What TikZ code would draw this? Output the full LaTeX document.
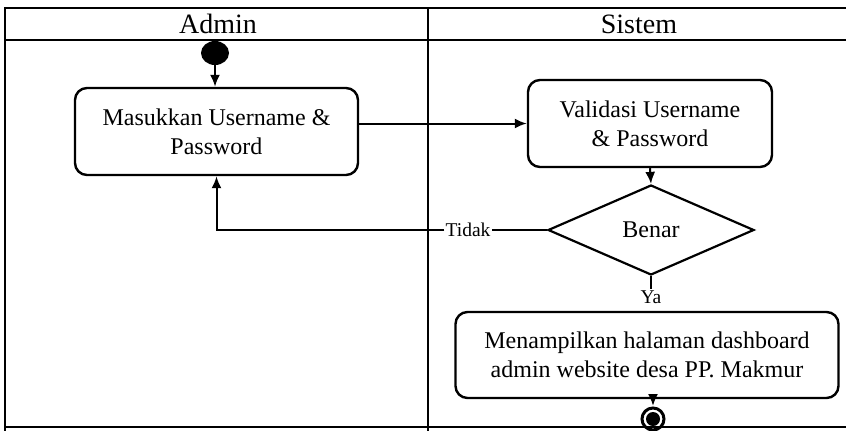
\documentclass[tikz,border=0pt]{standalone}
\usepackage{fontspec}
\setmainfont{Liberation Serif}
\usetikzlibrary{positioning,calc,arrows.meta,shapes}

\begin{document}
\begin{tikzpicture}
    [
    x=1pt, y=-1pt,
    activity/.style={
      draw, line width=2.4pt, rounded corners=12pt,
      align=center, inner sep=0pt,
      font=\fontsize{24}{29}\selectfont
    },
    decision/.style={
      draw, diamond, line width=2.2pt, inner sep=0pt,
      minimum width=206pt, minimum height=90pt,
      font=\fontsize{24}{29}\selectfont
    },
    flow/.style={
      line width=2pt,
      -{Latex[length=12pt, width=10pt]}
    },
    guard/.style={
      inner sep=1pt, font=\fontsize{19.5}{22}\selectfont
    },
    lane/.style={line width=1.8pt}
    ]
    \clip (0,0) rectangle (846,431);

    % Swimlanes
    \draw[lane] (5,440) -- (5,8) -- (860,8);
    \draw[lane] (5,40) -- (860,40);
    \draw[lane] (5,427) -- (860,427);
    \draw[line width=1.2pt] (428,8) -- (428,440);
    \node[font=\fontsize{28}{32}\selectfont] (admin) at (218,24) {Admin};
    \node[font=\fontsize{28}{32}\selectfont] (sistem) at (639,24) {Sistem};

    % Activities
    \fill (215,53) ellipse (14pt and 12pt);
    \coordinate (start) at (215,64);
    \node[activity, minimum width=283pt, minimum height=87pt] (login) at (216.5,131.5)
      {Masukkan Username \&\\Password};
    \node[activity, minimum width=244pt, minimum height=87pt] (validasi) at (650,123.5)
      {Validasi Username\\\& Password};
    \node[decision] (benar) at (651,230) {Benar};
    \node[guard] (tidak) at (468,230) {Tidak};
    \node[guard] (ya) at (651,297) {Ya};
    \node[activity, minimum width=383pt, minimum height=86pt] (dashboard) at (647,355)
      {Menampilkan halaman dashboard\\admin website desa PP. Makmur};

    % Final node
    \draw[line width=3pt] (653,419) circle (11pt);
    \fill (653,419) circle (7pt);
    \coordinate (final) at (653,406);

    % Flows
    \draw[flow] (start) -- (login.north -| start);
    \draw[flow] (login.east |- validasi.west) -- (validasi.west);
    \draw[flow] (validasi.south) -- (benar.north);
    \draw[line width=2pt] (benar.west) -- (tidak.east);
    \draw[flow] (tidak.west) -| (login.south);
    \draw[line width=2pt] (benar.south) -- (ya.north);
    \draw[flow] (dashboard.south -| final) -- (final);
\end{tikzpicture}
\end{document}
